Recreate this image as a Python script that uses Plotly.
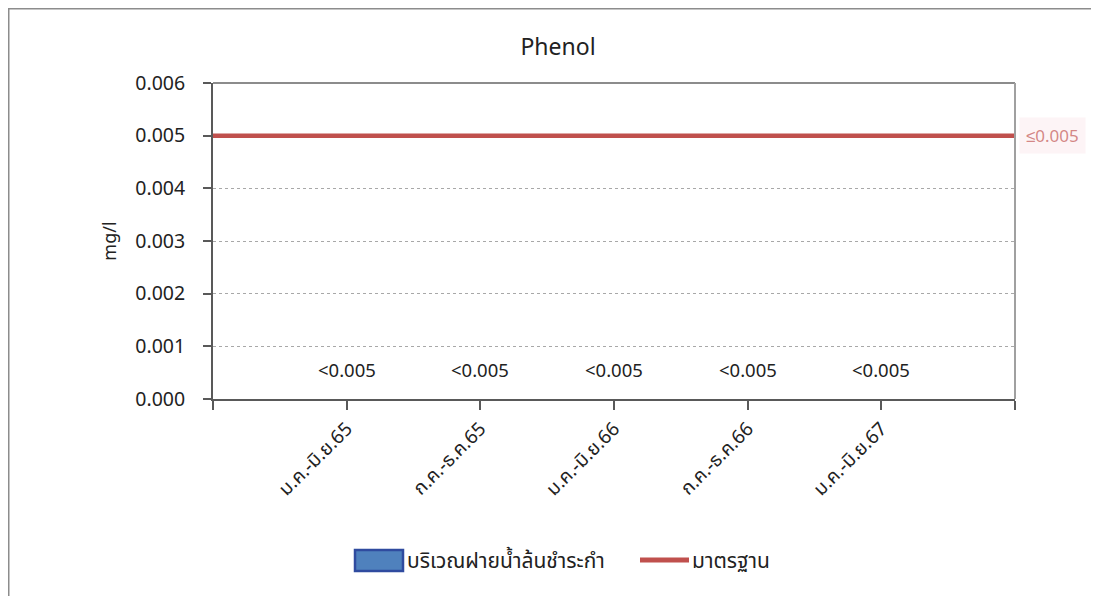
import plotly.graph_objects as go

# ---- data ----
categories = ["ม.ค.-มิ.ย.65", "ก.ค.-ธ.ค.65", "ม.ค.-มิ.ย.66", "ก.ค.-ธ.ค.66", "ม.ค.-มิ.ย.67"]
measured = [0, 0, 0, 0, 0]                      # all below detection limit
value_labels = ["<0.005", "<0.005", "<0.005", "<0.005", "<0.005"]
standard_value = 0.005
standard_label = "≤0.005"
series_name = "บริเวณฝายน้ำล้นชำระกำ"
standard_name = "มาตรฐาน"
y_ticks = [0.000, 0.001, 0.002, 0.003, 0.004, 0.005, 0.006]

FONT = "Noto Sans, Noto Sans Thai, Loma, Garuda, sans-serif"
OFF = 8                      # page body margin
W, H = 1099 - OFF, 597 - OFF
L, R, T, B = 213 - OFF, 1015 - OFF, 83 - OFF, 399 - OFF   # plot area in figure pixels

def px(x):
    return (x - OFF - L) / (R - L)

def py(y):
    return (B - (y - OFF)) / (B - T)

x_idx = list(range(len(categories)))
x_range = [-1, len(categories)]

fig = go.Figure()
fig.add_trace(go.Bar(
    x=x_idx, y=measured, name=series_name,
    marker=dict(color="#4F81BD", line=dict(width=0)),
    showlegend=False, width=0.6,
))
fig.add_trace(go.Scatter(
    x=x_range, y=[standard_value] * 2, mode="lines", name=standard_name,
    line=dict(color="#C0504D", width=4.5), showlegend=False, cliponaxis=False,
))

annotations = []
for xi, v, lab in zip(x_idx, measured, value_labels):
    annotations.append(dict(x=xi, y=v, xref="x", yref="y", text=lab, showarrow=False,
                            yshift=30, font=dict(size=18.5, color="#222222", family=FONT)))

# standard label at right end
annotations.append(dict(x=px(1052), y=standard_value, xref="paper", yref="y",
                        xanchor="center", yanchor="middle",
                        text=standard_label, showarrow=False,
                        font=dict(size=17, color="rgba(192,80,77,0.8)", family=FONT),
                        bgcolor="rgba(250,228,232,0.45)", borderpad=6, opacity=0.85))

# legend texts
annotations.append(dict(x=px(405), y=py(560), xref="paper", yref="paper", text=series_name,
                        showarrow=False, xanchor="left", yanchor="middle",
                        font=dict(size=21, color="#222222", family=FONT)))
annotations.append(dict(x=px(690), y=py(560), xref="paper", yref="paper", text=standard_name,
                        showarrow=False, xanchor="left", yanchor="middle",
                        font=dict(size=21, color="#222222", family=FONT)))

shapes = [
    # outer chart border (top and left edges visible)
    dict(type="line", xref="paper", yref="paper", x0=px(7.5), x1=px(1098), y0=py(8.5), y1=py(8.5),
         line=dict(color="#8C8C8C", width=2), layer="below"),
    dict(type="line", xref="paper", yref="paper", x0=px(8.5), x1=px(8.5), y0=py(8.5), y1=py(596),
         line=dict(color="#8C8C8C", width=2), layer="below"),
    # top and right plot border
    dict(type="line", xref="paper", yref="paper", x0=0, x1=1, y0=1, y1=1,
         line=dict(color="#8C8C8C", width=2)),
    dict(type="line", xref="paper", yref="paper", x0=1, x1=1, y0=0, y1=1,
         line=dict(color="#A0A0A0", width=2)),
    # legend symbols
    dict(type="rect", xref="paper", yref="paper", x0=px(355), x1=px(403), y0=py(571), y1=py(550),
         fillcolor="#4F81BD", line=dict(color="#2F4B9F", width=2.5)),
    dict(type="line", xref="paper", yref="paper", x0=px(640), x1=px(689), y0=py(560), y1=py(560),
         line=dict(color="#C0504D", width=5)),
]

fig.update_layout(
    width=W, height=H,
    margin=dict(l=L, r=W - R, t=T, b=H - B, pad=0),
    paper_bgcolor="white", plot_bgcolor="white",
    font=dict(family=FONT, size=18, color="#222222"),
    title=dict(text="Phenol", x=(558 - OFF) / W, xanchor="center",
               y=1 - (47 - OFF) / H, yanchor="middle",
               font=dict(size=23, color="#222222", family=FONT)),
    showlegend=False,
    annotations=annotations,
    shapes=shapes,
)
fig.update_xaxes(
    range=x_range, tickmode="array",
    tickvals=list(range(x_range[0], x_range[1] + 1)),
    ticktext=[""] + categories + [""],
    tickangle=-45, ticks="outside", ticklen=9, tickwidth=1.5, tickcolor="#595959",
    showline=True, linecolor="#595959", linewidth=2, showgrid=False, zeroline=False,
    tickfont=dict(size=19, family=FONT, color="#222222"),
)
fig.update_yaxes(
    range=[0, 0.006], tickmode="array", tickvals=y_ticks,
    ticktext=[f"{v:.3f}" for v in y_ticks],
    ticks="outside", ticklen=8, tickwidth=1.5, tickcolor="#595959", ticklabelstandoff=14,
    showline=True, linecolor="#595959", linewidth=2,
    showgrid=True, gridcolor="#A8A8A8", griddash="dot", gridwidth=1, zeroline=False,
    tickfont=dict(size=19.5, family=FONT, color="#222222"),
    title=dict(text="mg/l", font=dict(size=18, family=FONT, color="#222222"), standoff=14),
)

fig.write_html("out.html")
